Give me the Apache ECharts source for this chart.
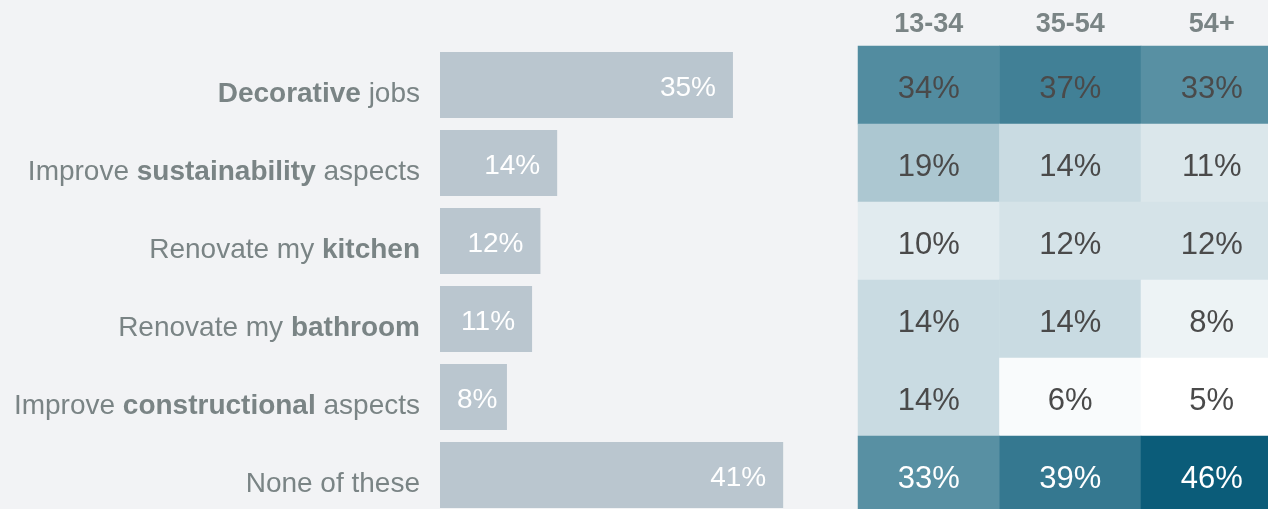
<!DOCTYPE html>
<html>
<head>
<meta charset="utf-8">
<script src="https://cdn.jsdelivr.net/npm/echarts@6/dist/echarts.min.js"></script>
<style>
  html, body { margin: 0; padding: 0; background: #f2f3f5; overflow: hidden; width: 1268px; height: 509px; }
  /* the heatmap's last column and row run past the visible edge */
  #chart { width: 1283px; height: 514px; }
</style>
</head>
<body>
<div id="chart"></div>
<script>
// Home improvement plans: overall share and split by age group
const categories = [
  ['', 'Decorative', ' jobs'],
  ['Improve ', 'sustainability', ' aspects'],
  ['Renovate my ', 'kitchen', ''],
  ['Renovate my ', 'bathroom', ''],
  ['Improve ', 'constructional', ' aspects'],
  ['None of these', '', '']
];
const totals = [35, 14, 12, 11, 8, 41];
const ageGroups = ['13-34', '35-54', '54+'];
const byAge = [
  [34, 37, 33],
  [19, 14, 11],
  [10, 12, 12],
  [14, 14, 8],
  [14, 6, 5],
  [33, 39, 46]
];

const FONT = '"Liberation Sans", Arial, sans-serif';
const GREY = '#7a8485';
const rowKeys = categories.map((c, i) => 'r' + i);

// heatmap cells: [column, row, value]
const cells = [];
byAge.forEach((row, r) => row.forEach((v, c) => cells.push({
  value: [c, r, v],
  label: { color: r === byAge.length - 1 ? '#ffffff' : '#4a4a4a' }
})));

const chart = echarts.init(document.getElementById('chart'));
chart.setOption({
  backgroundColor: '#f2f3f5',
  animation: false,
  grid: [
    { left: 440, top: 46, width: 418.5, height: 468 },
    { left: 858, top: 46, width: 424.5, height: 468 }
  ],
  xAxis: [
    { gridIndex: 0, type: 'value', min: 0, max: 50, show: false },
    {
      gridIndex: 1, type: 'category', data: ageGroups, position: 'top',
      axisLine: { show: false }, axisTick: { show: false }, splitLine: { show: false },
      axisLabel: { color: GREY, fontFamily: FONT, fontWeight: 'bold', fontSize: 27, margin: 8 }
    }
  ],
  yAxis: [
    {
      gridIndex: 0, type: 'category', data: rowKeys, inverse: true,
      axisLine: { show: false }, axisTick: { show: false },
      axisLabel: {
        margin: 20,
        padding: [19, 0, 0, 0],
        formatter: (key) => {
          const c = categories[rowKeys.indexOf(key)];
          let s = '';
          if (c[0]) s += '{n|' + c[0] + '}';
          if (c[1]) s += '{b|' + c[1] + '}';
          if (c[2]) s += '{n|' + c[2] + '}';
          return s;
        },
        rich: {
          n: { color: GREY, fontFamily: FONT, fontSize: 28 },
          b: { color: GREY, fontFamily: FONT, fontSize: 28, fontWeight: 'bold' }
        }
      }
    },
    {
      gridIndex: 1, type: 'category', data: rowKeys, inverse: true, show: false
    }
  ],
  visualMap: {
    show: false, type: 'continuous', min: 5, max: 46, seriesIndex: 1, dimension: 2,
    inRange: { color: ['#ffffff', '#0b5c79'] }
  },
  series: [
    {
      type: 'bar', xAxisIndex: 0, yAxisIndex: 0, barWidth: 66,
      itemStyle: { color: '#bac6cf' },
      data: totals.map(v => ({
        value: v,
        label: { position: v < 10 ? 'insideLeft' : 'insideRight' }
      })),
      label: {
        show: true, distance: 17, offset: [0, 3], color: '#ffffff', fontFamily: FONT, fontSize: 28,
        formatter: p => p.value + '%'
      }
    },
    {
      type: 'heatmap', xAxisIndex: 1, yAxisIndex: 1,
      data: cells,
      label: {
        show: true, fontFamily: FONT, fontSize: 31, offset: [0, 4],
        formatter: p => p.value[2] + '%'
      },
      itemStyle: { borderWidth: 0 }
    }
  ]
});
</script>
</body>
</html>
